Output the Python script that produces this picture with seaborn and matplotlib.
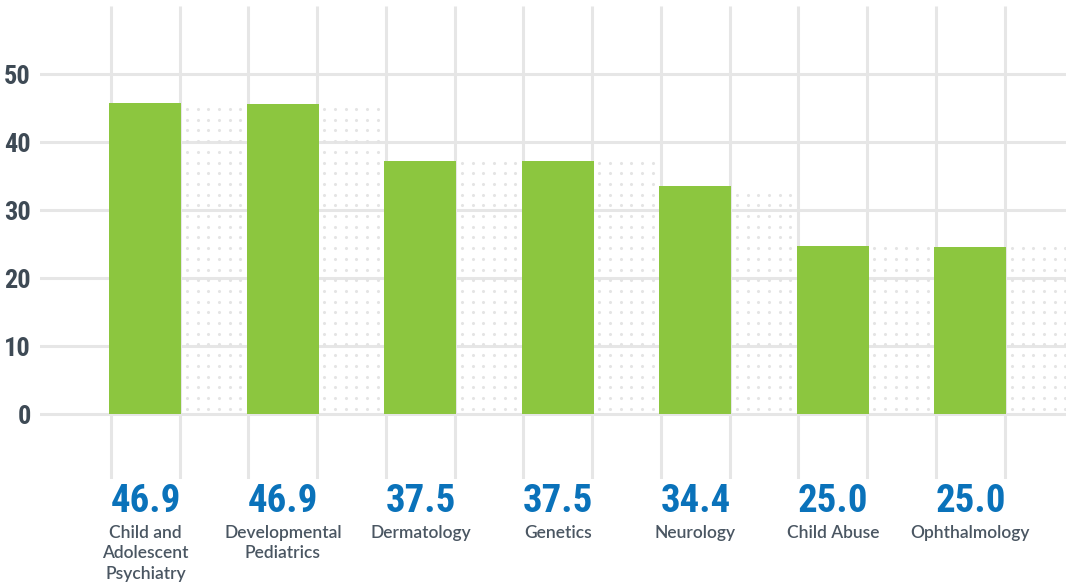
import numpy as np
import pandas as pd
import matplotlib
matplotlib.use("Agg")
import matplotlib.pyplot as plt
import seaborn as sns

# data
specialties = ["Child and\nAdolescent\nPsychiatry", "Developmental\nPediatrics", "Dermatology",
               "Genetics", "Neurology", "Child Abuse", "Ophthalmology"]
bar_heights = [45.8, 45.7, 37.3, 37.3, 33.6, 24.8, 24.6]
pct_labels = ["46.9", "46.9", "37.5", "37.5", "34.4", "25.0", "25.0"]
y_ticks = [0, 10, 20, 30, 40, 50]

GREEN = "#8cc63f"
BLUE = "#0a72ba"
GRID = "#e6e6e6"
DOT = "#e4e4e4"
TEXT = "#4a5662"
TICK = "#3e4a55"
COND = ["Roboto Condensed", "Roboto", "DejaVu Sans"]

df = pd.DataFrame({"specialty": specialties, "height": bar_heights})

sns.set_theme(style="white")
plt.rcParams["font.family"] = ["Lato", "DejaVu Sans"]

fig = plt.figure(figsize=(10.66, 5.86), dpi=100)
ax = fig.add_axes([40 / 1066, 107 / 586, 1026 / 1066, 473 / 586])

bar_w = 0.524
sns.barplot(data=df, x="specialty", y="height", color=GREEN, saturation=1,
            width=bar_w, ax=ax, zorder=3, linewidth=0)

ax.set_xlim(-0.767, 6.695)
ax.set_ylim(-9.49, 60.07)

# horizontal grid lines at the ticks
for t in y_ticks:
    ax.axhline(t, color=GRID, lw=2.2, zorder=0)

# vertical lines at bar edges
n = len(bar_heights)
inset = 0.011
edges = []
for i in range(n):
    edges += [i - bar_w / 2 + inset, i + bar_w / 2 - inset]
ax.vlines(edges, -9.49, 60.07, color=GRID, lw=2.2, zorder=0)

# dotted "shadow" area to the right of each bar
dx = 10.7 / 137.5
dy = 10.7 / 6.8
y0 = 5.8 / 6.8
x_end = ax.get_xlim()[1]
for i, h in enumerate(bar_heights):
    left = i + bar_w / 2
    right = (i + 1 - bar_w / 2) if i < n - 1 else x_end
    xs = np.arange(left + dx / 2, right, dx)
    ys = np.arange(y0, h + 0.2, dy)
    gx, gy = np.meshgrid(xs, ys)
    ax.scatter(gx.ravel(), gy.ravel(), s=5, color=DOT, linewidths=0, zorder=1)

# value labels and category names below the axis
for i, (lab, name) in enumerate(zip(pct_labels, specialties)):
    ax.text(i, -14.34, lab, ha="center", va="baseline", color=BLUE,
            fontsize=28, fontweight="bold", family=COND, clip_on=False)
    ax.text(i, -16.2, name, ha="center", va="top", color=TEXT,
            fontsize=12.5, fontweight="semibold", linespacing=1.35, clip_on=False)

ax.set_yticks(y_ticks)
ax.set_yticklabels([str(t) for t in y_ticks], color=TICK, fontsize=19,
                   fontweight="bold", family=COND)
ax.tick_params(axis="y", length=0, pad=6.5)
ax.set_xticks([])
ax.set_xlabel("")
ax.set_ylabel("")
sns.despine(ax=ax, left=True, bottom=True, top=True, right=True)

fig.savefig("out.png", dpi=100)
